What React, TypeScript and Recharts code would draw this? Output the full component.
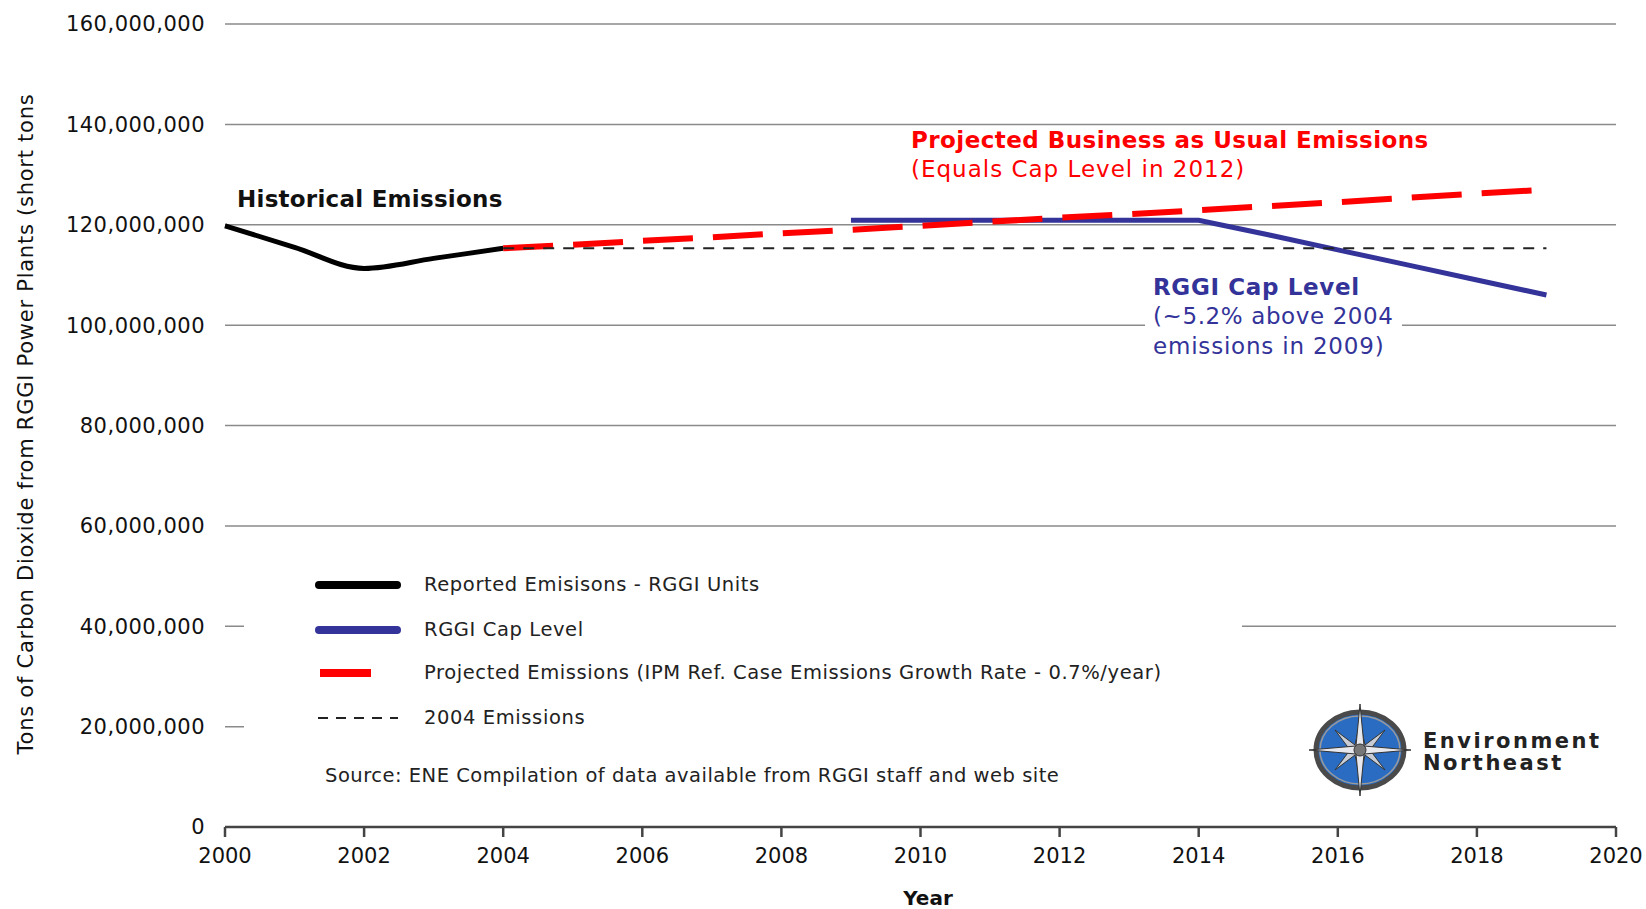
import React from "react";
import {
  LineChart,
  Line,
  XAxis,
  YAxis,
  CartesianGrid,
  ReferenceLine,
} from "recharts";

// values in millions of short tons
const years = [
  2000, 2001, 2002, 2003, 2004, 2005, 2006, 2007, 2008, 2009,
  2010, 2011, 2012, 2013, 2014, 2015, 2016, 2017, 2018, 2019,
];
const historical = [119.8, 115.5, 111.3, 113.3, 115.3, null, null, null, null, null,
  null, null, null, null, null, null, null, null, null, null];
const capLevel = [null, null, null, null, null, null, null, null, null, 120.9,
  120.9, 120.9, 120.9, 120.9, 120.9, 118.0, 115.0, 112.0, 109.0, 106.0];
const projected = [null, null, null, null, 115.3, 116.0, 116.8, 117.5, 118.3, 119.0,
  119.8, 120.6, 121.4, 122.1, 122.9, 123.7, 124.5, 125.4, 126.2, 127.0];
const emissions2004 = 115.3;
const emissions2004Span = [2004, 2019];

const xTicks = [2000, 2002, 2004, 2006, 2008, 2010, 2012, 2014, 2016, 2018, 2020];
const yTicks = [0, 20, 40, 60, 80, 100, 120, 140, 160];

const legendItems = [
  { label: "Reported Emisisons - RGGI Units", kind: "black" },
  { label: "RGGI Cap Level", kind: "blue" },
  { label: "Projected Emissions (IPM Ref. Case Emissions Growth Rate - 0.7%/year)", kind: "red" },
  { label: "2004 Emissions", kind: "dash" },
];

const FONT = '"DejaVu Sans", "Liberation Sans", sans-serif';
const RED = "#ff0000";
const BLUE = "#333399";

const rows = years.map((year, i) => ({
  year,
  hist: historical[i],
  cap: capLevel[i],
  proj: projected[i],
}));

const fmt = (v: number) => (v * 1000000).toLocaleString("en-US");

const YLabel = () => (
  <text
    x={26}
    y={424}
    transform="rotate(-90, 26, 424)"
    textAnchor="middle"
    dominantBaseline="central"
    fontFamily={FONT}
    fontSize={21}
    letterSpacing={0.75}
    fill="#111"
  >
    Tons of Carbon Dioxide from RGGI Power Plants (short tons
  </text>
);

const XLabel = () => (
  <text x={928} y={905} textAnchor="middle" fontFamily={FONT} fontSize={20} fontWeight={700} fill="#111">
    Year
  </text>
);

const Swatch = ({ kind }: { kind: string }) => {
  if (kind === "dash") {
    return (
      <svg width={90} height={12}>
        <line x1={4} y1={6} x2={84} y2={6} stroke="#222" strokeWidth={2} strokeDasharray="10 8" />
      </svg>
    );
  }
  if (kind === "red") {
    return (
      <svg width={90} height={12}>
        <rect x={6} y={2} width={51} height={8} fill={RED} />
      </svg>
    );
  }
  return (
    <svg width={90} height={12}>
      <line x1={5} y1={6} x2={83} y2={6} stroke={kind === "black" ? "#000" : BLUE} strokeWidth={8} strokeLinecap="round" />
    </svg>
  );
};

const abs = (left: number, top: number, extra: React.CSSProperties = {}): React.CSSProperties => ({
  position: "absolute",
  left,
  top,
  whiteSpace: "nowrap",
  lineHeight: 1,
  fontFamily: FONT,
  ...extra,
});

const Logo = () => (
  <svg width={110} height={100} style={{ position: "absolute", left: 1305, top: 700 }}>
    <ellipse cx={55} cy={50} rx={44} ry={38} fill="#2a6cc2" stroke="#4a4a4a" strokeWidth={5} />
    <ellipse cx={55} cy={50} rx={40} ry={34} fill="none" stroke="#9a9a9a" strokeWidth={1.5} />
    <polygon points="55,22 60,45 80,30 65,50 80,70 60,55 55,78 50,55 30,70 45,50 30,30 50,45" fill="#c8ccd4" stroke="#333" strokeWidth={1} />
    <polygon points="55,4 59,46 106,50 59,54 55,96 51,54 4,50 51,46" fill="#e6e8ee" stroke="#333" strokeWidth={1} />
    <circle cx={55} cy={50} r={6} fill="#777" stroke="#333" strokeWidth={1} />
  </svg>
);

export default function App() {
  return (
    <div style={{ position: "absolute", left: 0, top: 0, width: 1646, height: 909, background: "#fff" }}>
      <LineChart width={1646} height={909} data={rows} margin={{ top: 24, right: 30, left: 0, bottom: 0 }}>
        <CartesianGrid horizontal vertical={false} stroke="#8a8a8a" strokeWidth={1.5} />
        <XAxis
          dataKey="year"
          type="number"
          domain={[2000, 2020]}
          ticks={xTicks}
          height={82}
          tickSize={10}
          tickMargin={11}
          stroke="#444"
          strokeWidth={2.5}
          tick={{ fontFamily: FONT, fontSize: 21, fill: "#111" }}
          label={<XLabel />}
        />
        <YAxis
          type="number"
          domain={[0, 160]}
          ticks={yTicks}
          width={225}
          axisLine={false}
          tickLine={false}
          tickMargin={14}
          tickFormatter={fmt}
          tick={{ fontFamily: FONT, fontSize: 21, letterSpacing: 0.5, fill: "#111" }}
          label={<YLabel />}
        />
        <Line dataKey="hist" type="monotone" stroke="#000" strokeWidth={5} dot={false} isAnimationActive={false} />
        <Line dataKey="cap" type="linear" stroke={BLUE} strokeWidth={5} dot={false} isAnimationActive={false} />
        <Line
          dataKey="proj"
          type="linear"
          stroke={RED}
          strokeWidth={6}
          strokeDasharray="50 20"
          dot={false}
          isAnimationActive={false}
        />
        <ReferenceLine
          segment={[
            { x: emissions2004Span[0], y: emissions2004 },
            { x: emissions2004Span[1], y: emissions2004 },
          ]}
          stroke="#222"
          strokeWidth={2}
          strokeDasharray="11 9"
        />
      </LineChart>

      <div style={abs(237, 188, { fontSize: 23, letterSpacing: 0.25, fontWeight: 700, color: "#111" })}>
        Historical Emissions
      </div>
      <div style={abs(911, 129, { fontSize: 23, letterSpacing: 0.45, fontWeight: 700, color: RED })}>
        Projected Business as Usual Emissions
      </div>
      <div style={abs(911, 158, { fontSize: 23, letterSpacing: 1.0, color: RED })}>(Equals Cap Level in 2012)</div>

      <div style={abs(1145, 276, { width: 257, height: 84, background: "#fff" })} />
      <div style={abs(1153, 276, { fontSize: 23, letterSpacing: 0.65, fontWeight: 700, color: BLUE })}>RGGI Cap Level</div>
      <div style={abs(1153, 305, { fontSize: 23, letterSpacing: 0.6, color: BLUE })}>(~5.2% above 2004</div>
      <div style={abs(1153, 335, { fontSize: 23, letterSpacing: 0.8, color: BLUE })}>emissions in 2009)</div>

      {/* legend box */}
      <div style={abs(244, 545, { width: 998, height: 255, background: "#fff" })}>
        {legendItems.map((item, i) => (
          <div key={item.label} style={abs(70, [30, 75, 118, 163][i], { display: "flex", alignItems: "center" })}>
            <Swatch kind={item.kind} />
            <span style={{ marginLeft: 20, fontSize: 19.5, letterSpacing: 0.6, color: "#222" }}>{item.label}</span>
          </div>
        ))}
        <div style={abs(81, 221, { fontSize: 19.5, letterSpacing: 0.5, color: "#222" })}>
          Source: ENE Compilation of data available from RGGI staff and web site
        </div>
      </div>

      {/* logo box */}
      <div style={abs(1242, 640, { width: 404, height: 160, background: "#fff" })} />
      <Logo />
      <div style={abs(1423, 731, { fontSize: 21, fontWeight: 900, letterSpacing: 2.5, color: "#222" })}>Environment</div>
      <div style={abs(1423, 753, { fontSize: 21, fontWeight: 900, letterSpacing: 2.5, color: "#222" })}>Northeast</div>
    </div>
  );
}
